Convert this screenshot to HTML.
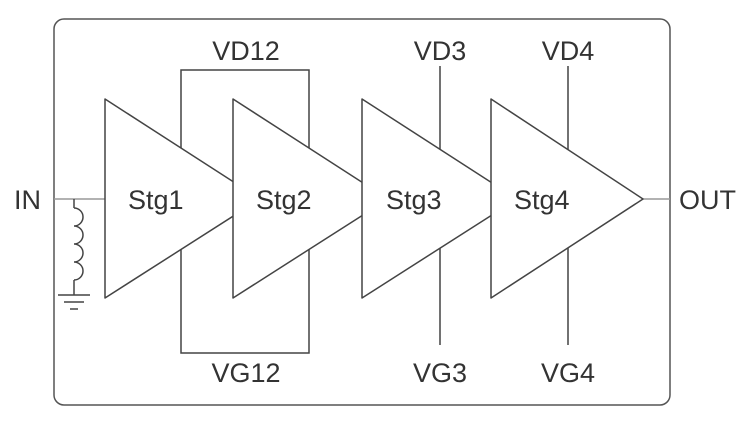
<!DOCTYPE html><html><head><style>body{margin:0;background:#fff}</style></head><body>
<svg width="754" height="424" xmlns="http://www.w3.org/2000/svg" font-family="Liberation Sans, sans-serif" fill="none" stroke="#444" stroke-width="1.5">
<rect x="54" y="19" width="616" height="386" rx="10" stroke="#555"/>
<line x1="54" y1="199" x2="105" y2="199" stroke="#999"/>
<line x1="643" y1="199" x2="670" y2="199" stroke="#999"/>
<line x1="74" y1="199" x2="74" y2="208"/>
<path d="M74 208 a9 9 0 0 1 0 18 a9 9 0 0 1 0 18 a9 9 0 0 1 0 18 a9 9 0 0 1 0 18"/>
<line x1="74" y1="280" x2="74" y2="295"/>
<line x1="58" y1="295" x2="90" y2="295"/><line x1="64" y1="302" x2="84" y2="302"/><line x1="70" y1="309" x2="78" y2="309"/>
<path d="M181 199 V70 H309 V199 M181 199 V353 H309 V199"/>
<line x1="440" y1="66" x2="440" y2="345"/>
<line x1="568" y1="66" x2="568" y2="345"/>
<g fill="#fff" stroke-linejoin="round">
<path d="M105 99 L260 199 L105 298 Z"/>
<path d="M233 99 L388 199 L233 298 Z"/>
<path d="M362 99 L517 199 L362 298 Z"/>
<path d="M491 99 L643 199 L491 298 Z"/>
</g>
<g fill="#333" stroke="none" font-size="27">
<text x="14" y="209">IN</text><text x="679" y="209">OUT</text>
<text x="128" y="209">Stg1</text><text x="256" y="209">Stg2</text><text x="386" y="209">Stg3</text><text x="514" y="209">Stg4</text>
<text x="246" y="60" text-anchor="middle">VD12</text><text x="246" y="382" text-anchor="middle">VG12</text>
<text x="440" y="60" text-anchor="middle">VD3</text><text x="440" y="382" text-anchor="middle">VG3</text>
<text x="568" y="60" text-anchor="middle">VD4</text><text x="568" y="382" text-anchor="middle">VG4</text>
</g>
</svg>
</body></html>
